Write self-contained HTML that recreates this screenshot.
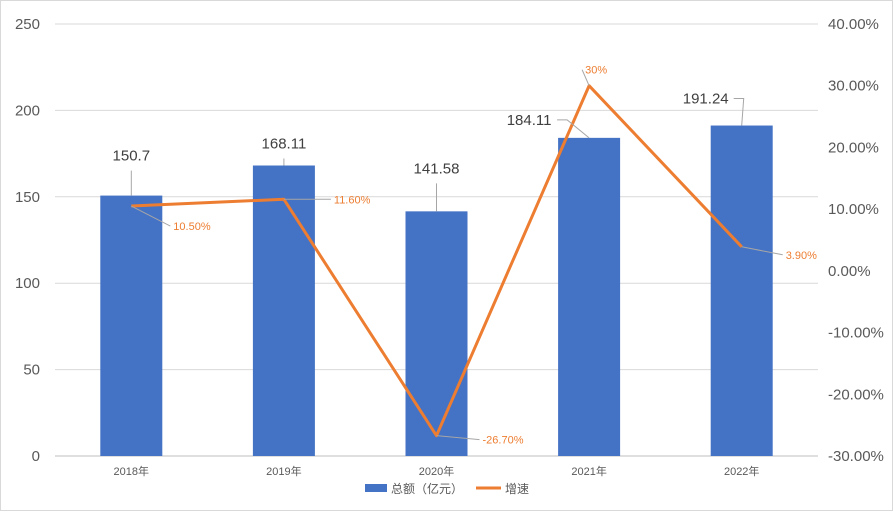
<!DOCTYPE html>
<html><head><meta charset="utf-8"><style>
body{margin:0;background:#fff;width:893px;height:511px;overflow:hidden;font-family:"Liberation Sans","Noto Sans CJK SC",sans-serif}
</style></head><body>
<svg id="chart" width="893" height="511" xmlns="http://www.w3.org/2000/svg" style="font-family:'Liberation Sans','Noto Sans CJK SC',sans-serif">
<rect x="0.5" y="0.5" width="892" height="510" fill="#fff" stroke="#d9d9d9"/>
<g id="grid"></g><g id="bars"></g><g id="line"></g><g id="labels"></g>
<g>
<rect x="365" y="484" width="22" height="8" fill="#4472c4"/>
<text x="391" y="493" font-size="12" fill="#595959">总额（亿元）</text>
<line x1="476" y1="488" x2="501" y2="488" stroke="#ed7d31" stroke-width="3"/>
<text x="505" y="493" font-size="12" fill="#595959">增速</text>
</g>
</svg>
<script>
const categories=["2018年","2019年","2020年","2021年","2022年"];
const totals=[150.7,168.11,141.58,184.11,191.24];
const growth=[10.5,11.6,-26.7,30,3.9];
const growthLabels=["10.50%","11.60%","-26.70%","30%","3.90%"];
const leftTicks=[0,50,100,150,200,250];
const rightTicks=[-30,-20,-10,0,10,20,30,40];
const NS="http://www.w3.org/2000/svg";
const x0=55,x1=818,yTop=24,yBot=456;
const step=(x1-x0)/categories.length;
const xc=i=>x0+step*(i+0.5);
const yL=v=>yBot-(v/250)*(yBot-yTop);
const yR=v=>yBot-((v+30)/70)*(yBot-yTop);
function mk(t,a,p){const e=document.createElementNS(NS,t);for(const k in a)e.setAttribute(k,a[k]);p.appendChild(e);return e;}
const g=document.getElementById('grid'),b=document.getElementById('bars'),l=document.getElementById('line'),lb=document.getElementById('labels');
leftTicks.forEach(v=>{
const ln=mk('line',{x1:x0,x2:x1,y1:yL(v),y2:yL(v),stroke:v===0?'#bfbfbf':'#d9d9d9'},g);


const t=mk('text',{x:40,y:yL(v)+5,'text-anchor':'end','font-size':15,fill:'#595959'},g);t.textContent=v;


});
rightTicks.forEach(v=>{
const t=mk('text',{x:828,y:yR(v)+5,'font-size':15,fill:'#595959'},g);t.textContent=v.toFixed(2)+'%';


});
categories.forEach((c,i)=>{
const t=mk('text',{x:xc(i),y:475,'text-anchor':'middle','font-size':11,fill:'#595959'},g);t.textContent=c;


const r=mk('rect',{x:xc(i)-31,y:yL(totals[i]),width:62,height:yBot-yL(totals[i]),fill:'#4472c4'},b);


const off=[[0,-35],[0,-17],[0,-38],[-60,-13],[-36,-22]][i];
const lx=xc(i)+off[0],ly=yL(totals[i])+off[1];
const tt=mk('text',{x:lx,y:ly,'text-anchor':'middle','font-size':15,fill:'#404040'},lb);tt.textContent=totals[i];


const pl=off[0]===0?[xc(i),ly+10,xc(i),yL(totals[i])]:[lx+28,ly-5,lx+38,ly-5,xc(i),yL(totals[i])];
const ll=mk('polyline',{points:pl.join(' '),fill:'none',stroke:'#a6a6a6'},lb);


});
const pts=growth.map((v,i)=>xc(i)+','+yR(v)).join(' ');
const pl=mk('polyline',{points:pts,fill:'none',stroke:'#ed7d31','stroke-width':3,'stroke-linejoin':'round'},l);


const goff=[[42,20],[50,0],[46,4],[-4,-16],[44,8]];
growth.forEach((v,i)=>{
const px=xc(i),py=yR(v),lx=px+goff[i][0],ly=py+goff[i][1];
const t=mk('text',{x:lx,y:ly+4,'font-size':11,fill:'#ed7d31'},lb);t.textContent=growthLabels[i];


const ln=mk('line',{x1:px,y1:py,x2:lx-3,y2:ly,stroke:'#a6a6a6'},lb);


});
</script>
</body></html>
